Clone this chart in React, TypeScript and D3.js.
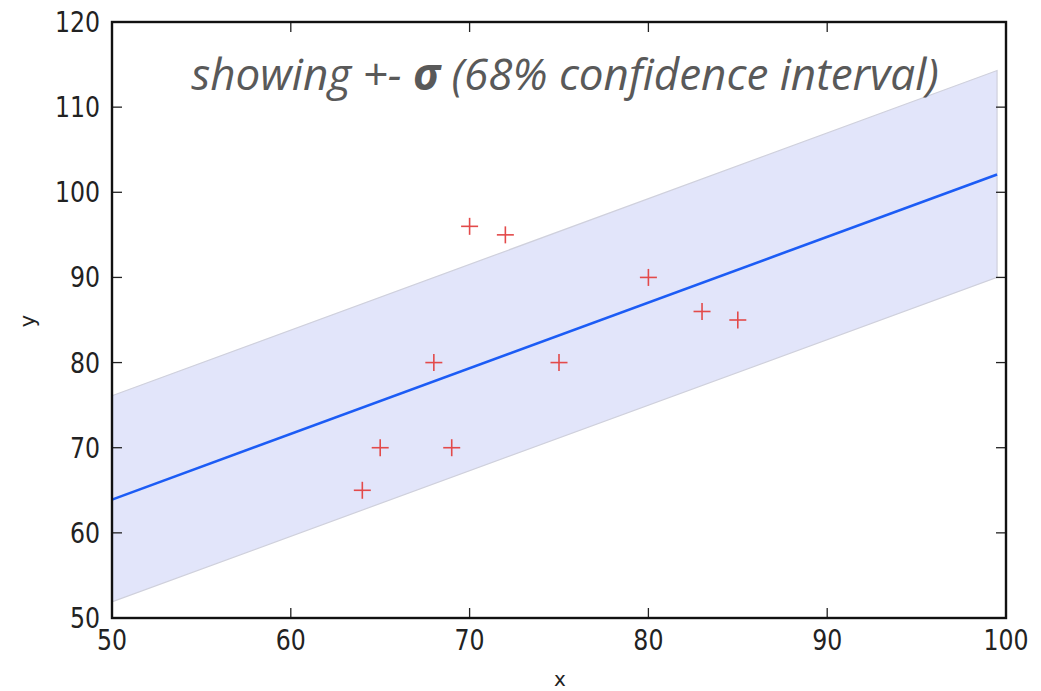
import React from "react";
import * as d3 from "d3";

// Observed samples
const sampleX = [64, 65, 68, 69, 70, 72, 75, 80, 83, 85];
const sampleY = [65, 70, 80, 70, 96, 95, 80, 90, 86, 85];

// Fitted line and its +-sigma band, sampled at the ends of the fit range
const fitX = [50, 99.5];
const fitY = [63.9, 102.1];
const bandLower = [51.9, 90.0];
const bandUpper = [76.1, 114.3];

const xTicks = [50, 60, 70, 80, 90, 100];
const yTicks = [50, 60, 70, 80, 90, 100, 110, 120];

const W = 1041;
const H = 691;
const M = { left: 112, right: 1006, top: 22, bottom: 618 };

export default function App() {
  const x = d3.scaleLinear().domain([50, 100]).range([M.left, M.right]);
  const y = d3.scaleLinear().domain([50, 120]).range([M.bottom, M.top]);

  const bandData = fitX.map((fx, i) => ({ x: fx, lo: bandLower[i], hi: bandUpper[i] }));
  const area = d3
    .area<{ x: number; lo: number; hi: number }>()
    .x((d) => x(d.x))
    .y0((d) => y(d.lo))
    .y1((d) => y(d.hi));
  const line = d3
    .line<number>()
    .x((_, i) => x(fitX[i]))
    .y((d) => y(d));

  const tickLen = 10;
  const font = "'DejaVu Sans', sans-serif";
  const arm = 8.5;

  return (
    <svg
      width={W}
      height={H}
      style={{ position: "absolute", left: 0, top: 0, background: "#fff" }}
    >
      <path
        d={area(bandData) ?? ""}
        fill="#e2e5fa"
        stroke="#cfd0dc"
        strokeWidth={1.2}
      />
      <path d={line(fitY) ?? ""} fill="none" stroke="#1c5cf5" strokeWidth={2.6} />

      {sampleX.map((sx, i) => (
        <g key={i} stroke="#e34a4a" strokeWidth={1.6}>
          <line x1={x(sx) - arm} x2={x(sx) + arm} y1={y(sampleY[i])} y2={y(sampleY[i])} />
          <line x1={x(sx)} x2={x(sx)} y1={y(sampleY[i]) - arm} y2={y(sampleY[i]) + arm} />
        </g>
      ))}

      {/* inward ticks on all four sides */}
      {xTicks.map((t) => (
        <g key={"xt" + t} stroke="#222" strokeWidth={1.3}>
          <line x1={x(t)} x2={x(t)} y1={M.bottom} y2={M.bottom - tickLen} />
          <line x1={x(t)} x2={x(t)} y1={M.top} y2={M.top + tickLen} />
        </g>
      ))}
      {yTicks.map((t) => (
        <g key={"yt" + t} stroke="#222" strokeWidth={1.3}>
          <line x1={M.left} x2={M.left + tickLen} y1={y(t)} y2={y(t)} />
          <line x1={M.right} x2={M.right - tickLen} y1={y(t)} y2={y(t)} />
        </g>
      ))}

      <rect
        x={M.left}
        y={M.top}
        width={M.right - M.left}
        height={M.bottom - M.top}
        fill="none"
        stroke="#111"
        strokeWidth={2.4}
      />

      {xTicks.map((t) => (
        <text
          key={"xl" + t}
          x={x(t)}
          y={M.bottom + 32}
          textAnchor="middle"
          fontFamily={font}
          fontSize={27.5}
          fill="#222"
          transform={`translate(${x(t)},0) scale(0.86,1) translate(${-x(t)},0)`}
        >
          {t}
        </text>
      ))}
      {yTicks.map((t) => (
        <text
          key={"yl" + t}
          x={100}
          y={y(t) + 10}
          textAnchor="end"
          fontFamily={font}
          fontSize={27.5}
          fill="#222"
          transform={`translate(100,0) scale(0.86,1) translate(-100,0)`}
        >
          {t}
        </text>
      ))}

      <text
        x={560}
        y={686}
        textAnchor="middle"
        fontFamily={font}
        fontSize={20}
        fill="#222"
      >
        x
      </text>
      <text
        transform="translate(35,321) rotate(-90)"
        textAnchor="middle"
        fontFamily={font}
        fontSize={21}
        fill="#222"
      >
        y
      </text>

      <text
        x={565}
        y={90}
        textAnchor="middle"
        fontFamily="'Open Sans', sans-serif"
        fontStyle="italic"
        fontSize={44}
        fill="#595959"
      >
        showing +- <tspan fontWeight="bold">σ</tspan> (68% confidence interval)
      </text>
    </svg>
  );
}
